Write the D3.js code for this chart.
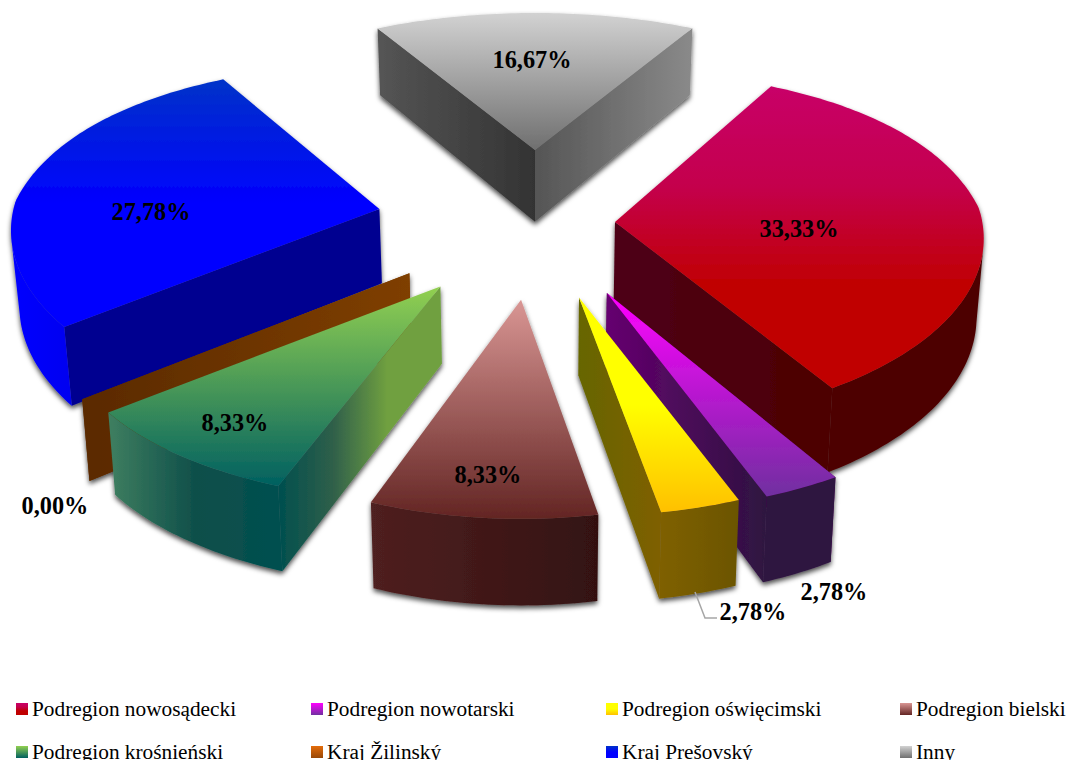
<!DOCTYPE html>
<html>
<head>
<meta charset="utf-8">
<script src="https://cdnjs.cloudflare.com/ajax/libs/d3/7.8.5/d3.min.js"></script>
<style>
  html, body { margin: 0; padding: 0; background: #fff; overflow: hidden; }
  text { font-family: "Liberation Serif", "Times New Roman", serif; fill: #000; }
  .value { font-size: 24.3px; font-weight: bold; text-anchor: middle; }
  .legendText { font-size: 21.3px; }
</style>
</head>
<body>
<div id="chart"></div>
<script>
"use strict";

const categories = ["Podregion nowosądecki", "Podregion nowotarski", "Podregion oświęcimski", "Podregion bielski",
  "Podregion krośnieński", "Kraj Žilinský", "Kraj Prešovský", "Inny"];
const shares = [33.33, 2.78, 2.78, 8.33, 8.33, 0, 27.78, 16.67];
const shareLabels = ["33,33%", "2,78%", "2,78%", "8,33%", "8,33%", "0,00%", "27,78%", "16,67%"];

// styles: top face gradient, then the walls (radial at start angle, radial at end angle, outer)
const topColors = [["#c80068", "#c4004c", "#c00000", "#c00000"], ["#ff00ff", "#7030a0"], ["#ffff00", "#ffff00", "#ffc000"],
  ["#d99694", "#632523"], ["#92d050", "#006060"], ["#e46c0a", "#984807"], ["#0033c8", "#0000ff", "#0000ff"], ["#d2d2d2", "#6f6f6f"]];
const startWall = [["#4d0000", "#4d0000"], ["#4d0050", "#4d0050"], ["#666600", "#666600"], ["#4f2020", "#331111"],
  ["#004f4f", "#2f5f4a", "#70a040", "#70a040"], ["#5a2a02", "#7f3f05"], ["#000090", "#000090"], ["#555555", "#333333"]];
const endWall = [["#4d0018", "#4d0000"], ["#660070", "#2e1440"], ["#666600", "#7f6000"], ["#4f2020", "#331111"],
  ["#006060", "#006060"], ["#5a2a02", "#7f3f05"], ["#000090", "#000090"], ["#555555", "#8a8a8a"]];
const outerWall = [["#4d0000", "#4d0000"], ["#2e1440", "#2e1440"], ["#7f6000", "#6b5500"], ["#4f2020", "#331111"],
  ["#3f7f60", "#0f4f4a", "#005050"], ["#5a2a02", "#5a2a02"], ["#0000ff", "#0000f0"], ["#555555", "#555555"]];

// layout of the exploded pie
const centerX = 535, centerY = 225;
const radiusX = 369, radiusY = 167.7, perspective = 0.224;
const explodeX = [80, 170, 170, 160, 165, 164, 158, 0];
const explodeY = 75;
const shiftY = [-17, 4, 3, 3, 0, 0, -11, 0];
const apexDrop = [14, -4, -3, -3, 0, 0, 8, 0];
const widthScale = [1.012, 1, 1, 0.94, 1.015, 1, 1.012, 1.02];
const frontSqueeze = [0.07, 0, 0, 0, 0, 0, 0.075, 0];
const wallExtra = [3, 0, 0, 0, 0, 0, 0, 0];
const paintOrder = [7, 6, 0, 5, 4, 1, 2, 3];
const labelAnchors = [[799, 237], [834, 600], [753, 620], [488, 483], [235, 431], [55, 514], [151, 220], [532, 68]];
const legendX = [16, 311, 606, 900];
const legendY = [703, 746];

const svg = d3.select("#chart").append("svg")
  .attr("width", 1067)
  .attr("height", 760)
  .style("display", "block");
const defs = svg.append("defs");

let shadow = defs.append("filter")
  .attr("id", "shadow")
  .attr("x", "-5%").attr("y", "-5%")
  .attr("width", "110%").attr("height", "110%");
shadow.append("feDropShadow")
  .attr("dx", 0).attr("dy", 3)
  .attr("stdDeviation", 2.5)
  .attr("flood-color", "#000")
  .attr("flood-opacity", 0.7);

function addGradient(id, colors, vertical) {
  let grad = defs.append("linearGradient")
    .attr("id", id)
    .attr("x1", 0).attr("y1", 0)
    .attr("x2", vertical ? 0 : 1).attr("y2", vertical ? 1 : 0);
  colors.forEach((c, i) => {
    grad.append("stop").attr("offset", i / (colors.length - 1)).attr("stop-color", c);
  });
  return "url(#" + id + ")";
}

// pie angle => point on the rim, relative to the slice centre
function rimPoint(angle, squeeze) {
  let u = Math.sin(angle), v = Math.cos(angle);
  let k = 1 / (1 + perspective * v);
  // pulls the sides in a bit so the widest point stays at radiusX
  let flatten = 1 - 0.026 * Math.pow(u, 4);
  if (v < 0) flatten *= 1 + squeeze * v;
  return [radiusX * u * k * flatten, -radiusY * v * k];
}

// bottom of a wall under a point of the top face
function extrude(p, extra) {
  return [p[0] + (centerX - p[0]) * 0.016, p[1] + 67 + 0.04 * (p[1] - 30) + (extra || 0)];
}

const arcs = d3.pie().sort(null)
  .startAngle(Math.PI / 6)
  .endAngle(Math.PI / 6 + 2 * Math.PI)(shares);

const line = d3.line();
const slicesG = svg.append("g").attr("filter", "url(#shadow)");

paintOrder.forEach(i => {
  let d = arcs[i];
  let mid = (d.startAngle + d.endAngle) / 2;
  let cx = centerX + explodeX[i] * Math.sin(mid);
  let cy = centerY - explodeY * Math.cos(mid) + shiftY[i];
  let apex = [cx, cy + apexDrop[i]];

  let stepCount = Math.max(1, Math.ceil((d.endAngle - d.startAngle) * 180 / Math.PI));
  let angles = d3.range(0, stepCount + 1).map(s => d.startAngle + (d.endAngle - d.startAngle) * s / stepCount);
  let toScreen = a => {
    let p = rimPoint(a, frontSqueeze[i]);
    return [cx + p[0] * widthScale[i], cy + p[1]];
  };
  let down = p => extrude(p, wallExtra[i]);
  let rim = angles.map(toScreen);
  let first = rim[0], last = rim[rim.length - 1];
  let topFace = [apex].concat(rim);

  let g = slicesG.append("g");

  // a radial wall that would end up under the top face is not drawn at all
  let drawWall = (edge, id, colors) => {
    let middle = down([(apex[0] + edge[0]) / 2, (apex[1] + edge[1]) / 2]);
    if (d3.polygonContains(topFace, middle)) return;
    g.append("path")
      .attr("d", line([apex, edge, down(edge), down(apex)]) + "Z")
      .attr("fill", addGradient(id, colors));
  };
  drawWall(first, "start" + i, startWall[i]);
  drawWall(last, "end" + i, endWall[i]);

  if (d.value > 0) {
    // the outer wall starts at the widest point of the rim
    let front = angles.filter(a => Math.cos(a) < -0.2).map(toScreen);
    if (front.length > 1) {
      g.append("path")
        .attr("d", line(front.concat(front.map(down).reverse())) + "Z")
        .attr("fill", addGradient("outer" + i, outerWall[i]));
    }
    g.append("path")
      .attr("d", line(topFace) + "Z")
      .attr("fill", addGradient("top" + i, topColors[i], true));
  }
});

// leader line of the oświęcimski label
svg.append("path")
  .attr("d", line([[695, 592], [705, 618], [717, 618]]))
  .attr("fill", "none")
  .attr("stroke", "#a6a6a6")
  .attr("stroke-width", 1.5);

svg.selectAll(".value")
  .data(shareLabels)
  .enter().append("text")
  .attr("class", "value")
  .attr("x", (t, i) => labelAnchors[i][0])
  .attr("y", (t, i) => labelAnchors[i][1])
  .text(t => t);

// Kraj Žilinský has no top face, so its gradient is added here
addGradient("top5", topColors[5], true);

let legend = svg.selectAll(".legendItem")
  .data(categories)
  .enter().append("g")
  .attr("class", "legendItem")
  .attr("transform", (c, i) => "translate(" + legendX[i % 4] + "," + legendY[Math.floor(i / 4)] + ")");

legend.append("rect")
  .attr("width", 12)
  .attr("height", 12)
  .attr("fill", (c, i) => "url(#top" + i + ")");

legend.append("text")
  .attr("class", "legendText")
  .attr("x", 16)
  .attr("y", 13)
  .text(c => c);
</script>
</body>
</html>
